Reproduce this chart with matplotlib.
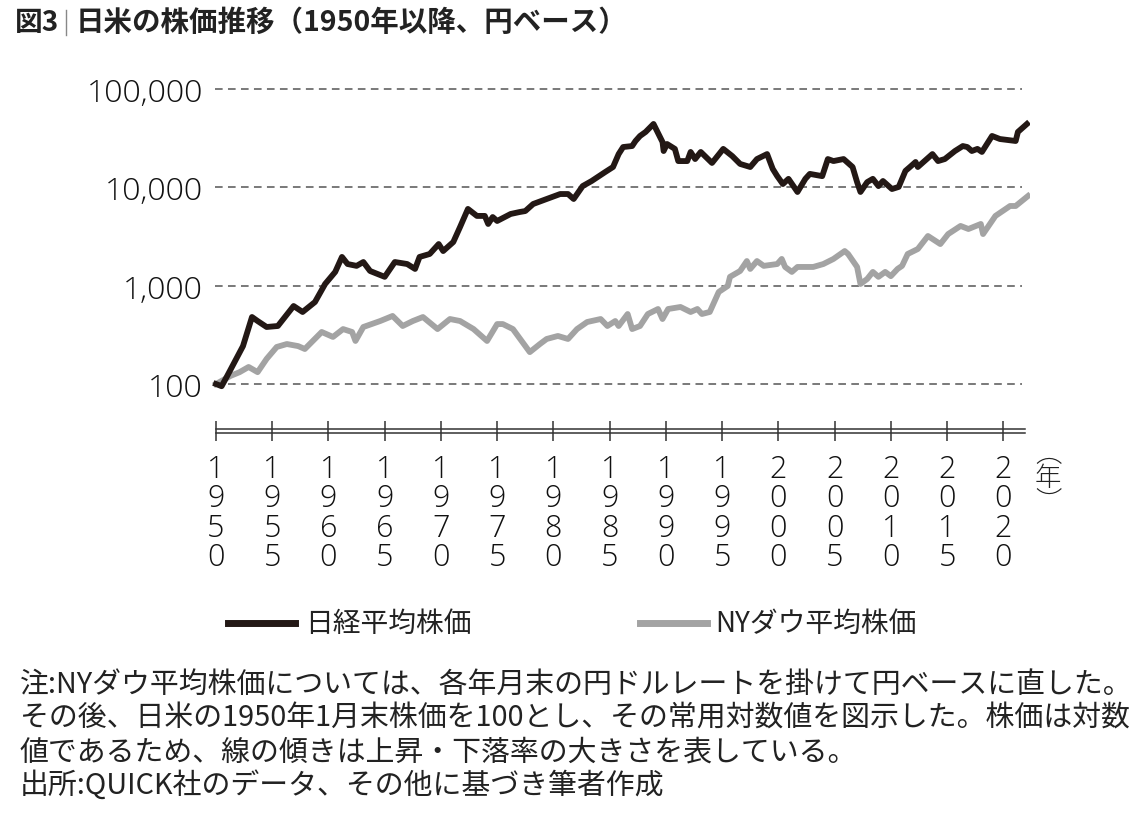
import matplotlib
matplotlib.use("Agg")
import matplotlib.pyplot as plt
from matplotlib.transforms import offset_copy
from matplotlib.lines import Line2D

plt.rcParams['font.family'] = ['Noto Sans CJK JP', 'DejaVu Sans']

# 日経平均株価（1950年1月末=100）
nk_year = [1950.0, 1950.5, 1951.0, 1952.4, 1953.2, 1953.7, 1954.5, 1955.5, 1956.9, 1957.7,
           1958.8, 1959.7, 1960.6, 1961.2, 1961.7, 1962.5, 1963.1, 1963.7, 1965.0, 1965.9,
           1967.0, 1967.7, 1968.1, 1969.0, 1969.8, 1970.2, 1971.1, 1971.7, 1972.4, 1973.2,
           1973.9, 1974.2, 1974.6, 1975.0, 1976.2, 1977.0, 1977.5, 1978.2, 1979.4, 1980.6,
           1981.3, 1981.8, 1982.6, 1983.4, 1984.6, 1985.3, 1985.8, 1986.2, 1987.0, 1987.3,
           1987.7, 1988.2, 1988.9, 1989.7, 1989.8, 1990.1, 1990.8, 1991.1, 1991.9, 1992.2,
           1992.6, 1993.1, 1994.1, 1995.1, 1995.9, 1996.6, 1997.5, 1998.1, 1999.0, 1999.5,
           1999.9, 2000.4, 2000.9, 2001.7, 2002.4, 2002.8, 2003.9, 2004.4, 2004.9, 2005.8,
           2006.6, 2007.0, 2007.3, 2007.9, 2008.4, 2008.9, 2009.3, 2010.1, 2010.7, 2011.3,
           2011.7, 2012.2, 2012.4, 2013.7, 2014.2, 2014.8, 2015.7, 2016.4, 2016.8, 2017.2,
           2017.7, 2018.1, 2019.0, 2019.7, 2021.1, 2021.3, 2022.1]
nk_val = [100, 95, 121, 243, 480, 437, 380, 389, 621, 540,
          682, 1040, 1380, 1960, 1660, 1590, 1740, 1410, 1230, 1740,
          1660, 1480, 1960, 2100, 2650, 2250, 2780, 3950, 6030, 5120,
          5120, 4240, 4990, 4550, 5360, 5610, 5740, 6770, 7610, 8550,
          8550, 7610, 10300, 11600, 14300, 16100, 21800, 25700, 26300, 29600,
          33300, 36600, 44100, 28900, 23400, 27600, 24600, 18500, 18500, 22900,
          19400, 22900, 17700, 24600, 20800, 17300, 16100, 19400, 21800, 15400,
          13000, 10800, 12200, 8970, 12200, 13700, 13000, 19400, 18500, 19400,
          16100, 11300, 8970, 11300, 12200, 10300, 11600, 9610, 10100, 14700,
          16100, 18100, 16100, 21800, 18500, 19400, 23400, 26300, 25700, 23400,
          24600, 22900, 33300, 31000, 29600, 36600, 44100]

# NYダウ平均株価（円ベース、1950年1月末=100）
dow_year = [1950.0, 1951.3, 1952.1, 1952.9, 1953.7, 1954.5, 1955.4, 1956.3, 1957.3, 1957.9,
            1959.4, 1960.4, 1961.3, 1962.1, 1962.4, 1963.1, 1964.6, 1965.7, 1966.6, 1967.5,
            1968.4, 1969.7, 1970.8, 1971.7, 1972.9, 1974.1, 1975.0, 1975.5, 1976.4, 1977.9,
            1978.8, 1979.4, 1980.4, 1981.3, 1982.1, 1983.0, 1984.2, 1984.8, 1985.5, 1985.8,
            1986.6, 1987.0, 1987.7, 1988.4, 1989.3, 1989.7, 1990.2, 1991.3, 1992.2, 1992.8,
            1993.2, 1993.9, 1994.7, 1995.5, 1995.7, 1996.6, 1997.2, 1997.5, 1998.1, 1998.7,
            1999.9, 2000.3, 2000.6, 2001.2, 2001.7, 2002.2, 2003.1, 2004.0, 2004.9, 2005.9,
            2006.2, 2007.0, 2007.3, 2007.9, 2008.4, 2008.9, 2009.5, 2010.0, 2010.6, 2011.0,
            2011.5, 2012.4, 2013.3, 2014.4, 2015.1, 2016.2, 2016.9, 2018.0, 2018.2, 2019.3,
            2020.6, 2021.1, 2022.2]
dow_val = [100, 121, 132, 149, 132, 180, 238, 255, 243, 227,
           338, 301, 362, 338, 274, 380, 437, 492, 389, 437,
           480, 362, 458, 437, 362, 274, 407, 407, 362, 211,
           255, 287, 308, 287, 362, 427, 458, 389, 437, 389,
           515, 362, 389, 515, 579, 458, 579, 607, 540, 579,
           515, 540, 863, 993, 1230, 1410, 1780, 1480, 1780, 1590,
           1660, 1870, 1550, 1380, 1550, 1550, 1550, 1660, 1870, 2250,
           2100, 1550, 1040, 1170, 1380, 1230, 1380, 1250, 1480, 1590,
           2100, 2360, 3200, 2650, 3350, 4050, 3770, 4240, 3350, 5120,
           6460, 6460, 8170]

x_ticks = list(range(1950, 2021, 5))
y_ticks = [100, 1000, 10000, 100000]
y_labels = ['100', '1,000', '10,000', '100,000']

title_fig = '図3'
title_main = '日米の株価推移（1950年以降、円ベース）'
legend_labels = ['日経平均株価', 'NYダウ平均株価']
notes = ['注:NYダウ平均株価については、各年月末の円ドルレートを掛けて円ベースに直した。',
         'その後、日米の1950年1月末株価を100とし、その常用対数値を図示した。株価は対数',
         '値であるため、線の傾きは上昇・下落率の大きさを表している。',
         '出所:QUICK社のデータ、その他に基づき筆者作成']

W, H = 1140, 820
BLACK = '#231815'
GRAY = '#a3a3a3'
TEXT = '#222222'
NUM_FONT = ['Open Sans', 'Noto Sans CJK JP']


def px(x, y):
    return x / W, 1 - y / H


fig = plt.figure(figsize=(W / 100, H / 100), dpi=100)
ax = fig.add_axes([210 / W, 1 - 432 / H, 820 / W, 352 / H])
ax.set_yscale('log')
ax.set_xlim(1949.467, 2022.374)
ax.set_ylim(33.27, 126400)

# grid
ax.hlines(y_ticks, 1949.9, 2021.66, colors='#555555', linewidth=1.1,
          linestyles=(0, (5, 3.5)), zorder=1)

ax.plot(dow_year, dow_val, color=GRAY, lw=4.2, solid_joinstyle='round', zorder=3)
ax.plot(nk_year, nk_val, color=BLACK, lw=4.2, solid_joinstyle='round', zorder=4)

for s in ax.spines.values():
    s.set_visible(False)

# double axis line
for dy in (-2, 2):
    tr = offset_copy(ax.get_xaxis_transform(), fig=fig, y=dy, units='dots')
    ax.plot([1950, 2021.93], [0, 0], transform=tr, color='#333333', lw=1.1,
            clip_on=False, zorder=2)

ax.set_xticks(x_ticks)
ax.set_xticklabels(['\n'.join(str(y)) for y in x_ticks], fontsize=22,
                   family=NUM_FONT, fontweight='light', linespacing=0.9, color='#111111')
ax.tick_params(axis='x', direction='inout', length=15, width=1.1, color='#333333', pad=8)
ax.set_yticks(y_ticks)
ax.set_yticklabels(y_labels, fontsize=23, family=NUM_FONT, fontweight='light', color='#111111')
ax.yaxis.set_minor_locator(matplotlib.ticker.NullLocator())
ax.tick_params(axis='y', length=0, pad=5)

fig.text(*px(1048, 478), '︵\n年\n︶', fontsize=19, fontweight='light',
         ha='center', va='center', linespacing=0.8, color=TEXT)

# title
fig.text(*px(15, 23), title_fig, fontsize=20, fontweight='bold', va='center', color=TEXT)
fig.add_artist(Line2D([66 / W, 66 / W], [1 - 11 / H, 1 - 36 / H], color='#888888', lw=1))
fig.text(*px(76, 23), title_main, fontsize=20.5, fontweight='bold', va='center', color=TEXT)

# legend
fig.add_artist(Line2D([228 / W, 295 / W], [1 - 624 / H] * 2, color=BLACK, lw=5))
fig.text(*px(305, 624), legend_labels[0], fontsize=20, va='center', color=TEXT)
fig.add_artist(Line2D([640 / W, 707 / W], [1 - 624 / H] * 2, color=GRAY, lw=5))
fig.text(*px(715, 624), legend_labels[1], fontsize=20, va='center', color=TEXT)

for i, line in enumerate(notes):
    fig.text(*px(20, 685 + i * 33.7), line, fontsize=20.8, va='center', color=TEXT)

fig.savefig('out.png', dpi=100)
